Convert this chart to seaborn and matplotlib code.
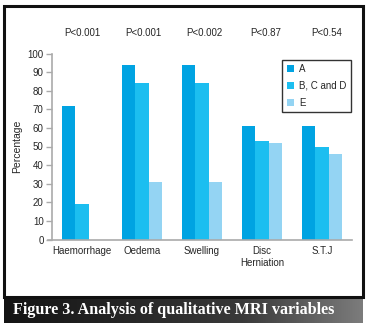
import numpy as np
import pandas as pd
import matplotlib
matplotlib.use("Agg")
import matplotlib.pyplot as plt
from matplotlib.patches import Rectangle
from matplotlib.colors import LinearSegmentedColormap
import seaborn as sns

categories = ["Haemorrhage", "Oedema", "Swelling", "Disc\nHerniation", "S.T.J"]
groups = ["A", "B, C and D", "E"]
values_a = [72, 94, 94, 61, 61]
values_bcd = [19, 84, 84, 53, 50]
values_e = [0, 31, 31, 52, 46]
p_values = ["P<0.001", "P<0.001", "P<0.002", "P<0.87", "P<0.54"]
yticks = [0, 10, 20, 30, 40, 50, 60, 70, 80, 90, 100]

colors = ["#00a3e2", "#1cbef0", "#94d4f3"]

rows = []
for g, vals in zip(groups, [values_a, values_bcd, values_e]):
    for c, v in zip(categories, vals):
        rows.append({"Category": c, "Group": g, "Percentage": v})
df = pd.DataFrame(rows)

sns.set_theme(style="white")
plt.rcParams['font.family'] = ['Liberation Sans', 'DejaVu Sans']

W, H = 369, 327
fig = plt.figure(figsize=(W / 100, H / 100), dpi=100)
fig.patch.set_facecolor("white")

ax = fig.add_axes([52 / W, (H - 239.5) / H, 300 / W, (239.5 - 53.5) / H])
sns.barplot(data=df, x="Category", y="Percentage", hue="Group", order=categories,
            hue_order=groups, palette=colors, width=0.675, gap=0, saturation=1,
            linewidth=0, ax=ax)

ax.set_ylim(0, 100)
ax.set_xlim(-0.5, 4.5)
ax.set_yticks(yticks)
ax.set_yticklabels([str(t) for t in yticks], fontsize=7)
ax.tick_params(axis="y", length=4, width=1, color="#aaaaaa", pad=2, left=True, direction="out")
ax.tick_params(axis="x", length=0, pad=5, labelsize=7)
for lbl in ax.get_xticklabels():
    lbl.set_linespacing(1.15)
ax.set_xlabel("")
ax.set_ylabel("Percentage", fontsize=7.5, labelpad=4)
for s in ["top", "right"]:
    ax.spines[s].set_visible(False)
for s in ["left", "bottom"]:
    ax.spines[s].set_color("#aaaaaa")
    ax.spines[s].set_linewidth(1.2)
ax.spines["bottom"].set_bounds(-0.57, 4.5)
ax.set_facecolor("none")

for i, p in enumerate(p_values):
    ax.text(i + 0.02 * i, 111, p, ha="center", va="center", fontsize=7, clip_on=False)

leg = ax.legend(loc="upper right", bbox_to_anchor=(0.997, 0.967), borderaxespad=0,
                frameon=True, fontsize=7, handlelength=0.8, handleheight=0.8,
                handletextpad=0.5, labelspacing=0.7, borderpad=0.45, fancybox=False)
leg.get_frame().set_edgecolor("black")
leg.get_frame().set_linewidth(1.0)
leg.set_title(None)

# outer frame
fig.patches.append(Rectangle((4 / W, (H - 297) / H), 359 / W, 291 / H, transform=fig.transFigure,
                             fill=False, edgecolor="#111111", linewidth=2.2, zorder=5))

# caption bar with gradient
cax = fig.add_axes([4 / W, (H - 323) / H, 359 / W, 26 / H])
grad = np.linspace(0, 1, 256).reshape(1, -1)
cmap = LinearSegmentedColormap.from_list("cap", ["#141414", "#262626", "#3a3a3a", "#7c7c7c"])
cax.imshow(grad, aspect="auto", cmap=cmap, extent=[0, 1, 0, 1])
cax.set_axis_off()
cax.text(0.025, 0.5, "Figure 3. Analysis of qualitative MRI variables", color="white",
         fontsize=11.6, fontweight="bold", family=["Liberation Serif", "DejaVu Serif"],
         ha="left", va="center", transform=cax.transAxes)

fig.savefig("out.png", dpi=100)
